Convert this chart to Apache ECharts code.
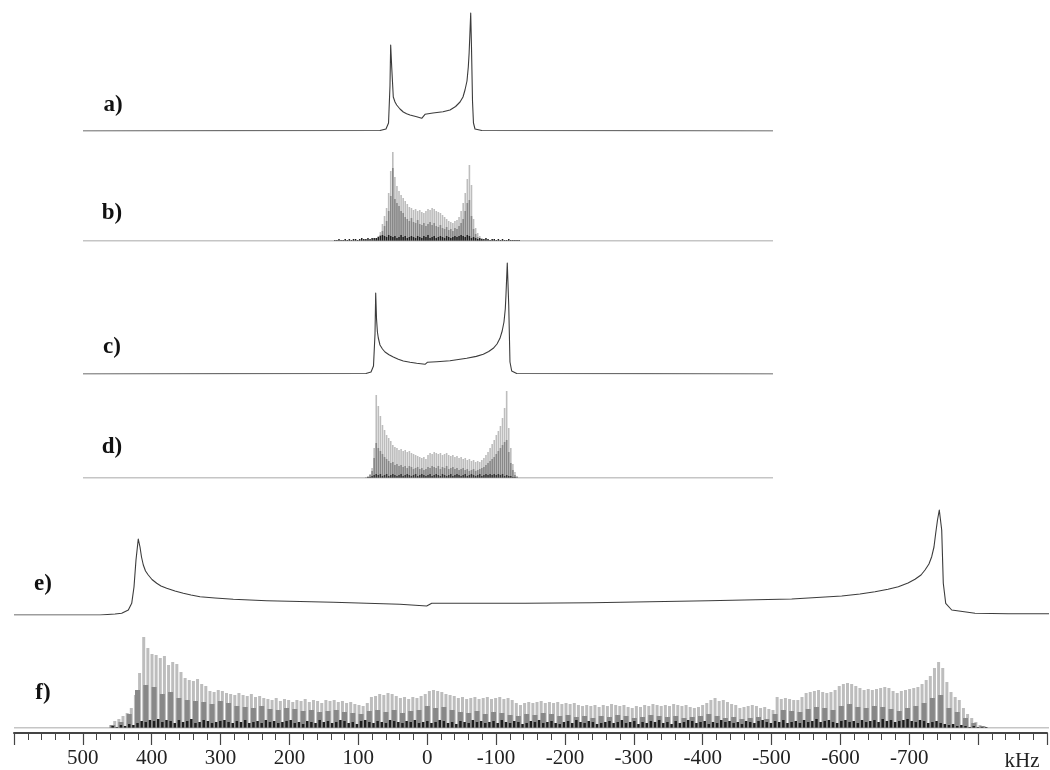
<!DOCTYPE html>
<html><head><meta charset="utf-8">
<script src="https://cdn.jsdelivr.net/npm/echarts@6/dist/echarts.min.js"></script>
<style>html,body{margin:0;padding:0;background:#fff}#c{width:1050px;height:770px}</style>
</head><body><div id="c"></div>
<script>
// ---------- DATA (x in kHz, y in relative intensity) ----------
const panelLabels = ['a)', 'b)', 'c)', 'd)', 'e)', 'f)'];
const tickLabelsShown = [500, 400, 300, 200, 100, 0, -100, -200, -300, -400, -500, -600, -700];
const axisUnit = 'kHz';

const traceA = [[500,0],[69.6,0.5],[60.9,2],[57.2,8],[55.1,45],[54.1,86],[52.6,64],[50.3,34],[47.8,29],[45.4,26],[40.6,22],[35.8,19],[31,17.3],[26.1,16],[16.4,14.3],[9.1,12.7],[6.5,12.8],[4.3,16.7],[-7.2,18],[-21.7,19.3],[-31.9,21],[-40,24.5],[-46.4,29],[-50.7,34],[-53.6,41],[-56.5,50],[-58.4,64],[-59.6,78],[-60.6,95],[-61.9,118],[-63,85],[-64.5,30],[-65.9,8],[-68.1,2],[-78,0.5],[-500,0]];

const traceC = [[500,0],[89.9,0.5],[82.6,2],[79,8],[76.8,40],[75.8,81],[74.6,55],[73.3,42],[72,36],[69.6,29],[66,25],[62.3,22],[56.5,19.3],[50.3,17],[43,14.8],[35.8,13],[26,11.7],[16.4,10.7],[4.3,9.7],[1,11.7],[-12.6,12.3],[-31.9,13.3],[-56.1,15.7],[-70,17.6],[-80.1,19.7],[-88,22.5],[-94.6,25.7],[-100,30],[-104.3,35.7],[-107.5,43],[-110.1,52],[-112,65],[-113,79],[-114.9,111],[-117,69],[-118.8,12],[-121.3,3],[-128.6,0.5],[-500,0]];

const traceE = [[600,0],[475.4,0],[453.6,1],[443.9,1.7],[434.3,5],[429.4,11.7],[426.1,28],[423.2,55],[419.9,76],[418.8,74],[417.4,68],[415.2,58],[412.6,50],[409.4,44],[405.4,40],[400,35.5],[393.2,31.7],[387,29],[378.7,26.7],[366.7,24],[354.6,21.7],[343.5,20],[330.4,18.3],[308.7,17],[282.2,15.7],[233.8,14.3],[137.2,12.7],[40.6,10.7],[1.9,9],[-5.4,11.7],[-31.9,11.7],[-140.6,11.7],[-237.2,12.3],[-406.2,14.3],[-527.1,16],[-599.6,19],[-626,21],[-647.8,23.3],[-666.7,25.8],[-681.6,28.3],[-695.7,32],[-705.8,35.7],[-714.5,40],[-720.3,45],[-726,51],[-730,58.3],[-733.3,68],[-735.8,81.7],[-738.4,95],[-741,105],[-744.5,85],[-746.8,31.7],[-750.3,11.7],[-759,5],[-792.8,1.7],[-841,1.3],[-900,1.3]];

// stick spectrum b: positions start 75 kHz, step 3 kHz
const bStart = 75, bStep = 3;
const bLight = [3,5,9,17,25,33,48,70,89,64,55,50,46,43,40,37,34,33,31,32,30,31,29,28,30,32,31,33,32,30,29,28,26,24,22,20,19,18,20,21,24,30,38,48,62,76,56,22,13,8,5,3];
const bDark  = [1,3,6,10,15,20,30,45,73,42,38,35,30,28,24,22,20,23,19,18,21,17,16,18,15,17,19,16,18,15,14,16,13,12,14,11,12,10,13,12,15,18,22,30,38,41,25,12,7,4,2,1];
const bBlackStart = 135;
const bBlack = [1,1,2,1,1,2,1,2,1,2,2,1,2,3,2,2,3,2,3,3,
  3,4,5,6,5,4,6,5,4,5,3,4,6,4,5,3,4,5,4,3,
  5,4,3,5,4,6,3,4,5,3,4,5,4,3,5,4,3,4,5,4,
  5,6,5,4,6,5,3,4,3,2,3,2,2,3,2,1,2,2,1,2,
  1,2,1,1,2,1,1,1,1,1];

// stick spectrum d: positions start 90 kHz, step 3 kHz
const dStart = 90, dStep = 3;
const dLight = [1,2,4,10,30,83,72,62,53,48,43,40,37,33,31,30,28,29,27,28,
  26,27,25,24,23,22,21,20,21,19,23,25,24,26,25,24,25,23,24,25,
  23,22,23,21,22,20,21,19,20,18,19,17,18,16,17,16,18,20,23,26,
  30,34,38,43,47,52,60,70,87,50,30,14,6,2];
const dDark = [0,1,3,7,20,35,30,27,24,21,19,17,15,16,13,14,12,13,11,12,
  10,12,11,9,10,11,9,10,8,9,11,10,12,11,10,12,9,11,10,12,
  9,10,11,9,10,8,9,10,8,9,7,8,9,7,8,9,10,11,13,15,
  17,19,21,24,27,30,33,36,38,26,15,8,3,1];
const dBlack = [0,1,1,2,3,4,3,4,2,3,4,2,3,4,3,2,3,4,2,3,
  4,3,2,3,4,2,3,4,3,2,3,4,2,3,4,3,2,4,3,2,
  3,4,2,3,4,3,2,3,4,2,3,4,3,2,3,4,2,3,4,3,
  4,3,4,3,4,3,4,2,3,2,2,1,1,0];

// stick spectrum f: light start 460 kHz step 6; dark start 457 step 12; black start 457 step 6
const fLightStart = 460, fLightStep = 6;
const fLight = [3,7,9,12,15,20,33,55,91,80,74,73,70,72,63,66,64,56,50,48,
  47,49,44,42,37,36,38,37,35,34,33,35,33,32,34,31,32,30,29,28,
  30,27,29,28,26,28,27,29,26,28,27,25,28,27,28,26,27,25,26,24,
  23,22,25,31,32,34,33,35,34,32,30,31,29,31,30,32,34,37,38,37,
  36,34,33,32,30,31,29,30,31,29,30,31,29,30,31,29,30,28,25,23,
  25,26,25,26,27,25,26,25,26,24,25,24,25,23,22,23,22,23,21,23,
  22,24,23,22,23,21,20,22,21,23,22,24,23,22,23,22,24,23,22,23,
  21,20,21,23,25,28,30,27,28,26,24,23,20,21,22,23,22,20,21,19,
  18,31,29,30,29,28,28,31,35,36,37,38,36,35,36,38,42,44,45,44,
  42,40,38,39,38,39,40,41,40,37,35,37,38,39,40,41,44,48,52,60,
  66,60,46,36,31,28,20,14,10,6,3,2];
const fDarkStart = 457, fDarkStep = 12;
const fDark = [3,6,14,38,43,41,34,36,30,28,27,26,24,27,25,22,21,20,22,19,
  18,20,19,17,18,16,17,18,16,15,14,17,18,16,18,15,17,18,22,20,
  21,18,16,15,17,14,16,15,13,12,14,13,15,14,12,13,11,12,10,12,
  11,13,12,10,11,13,12,11,12,10,11,12,14,12,10,11,9,10,11,9,
  14,18,17,16,19,21,20,18,22,24,21,20,22,21,19,17,20,22,25,30,
  33,20,16,10,5,2];
const fBlackStart = 457, fBlackStep = 6;
const fBlack = [2,1,3,2,4,3,5,7,6,8,7,9,6,8,7,5,8,6,7,9,
  5,6,8,7,5,6,7,8,6,5,7,6,8,5,6,7,5,8,6,7,
  5,6,7,8,5,6,4,7,6,5,8,6,7,5,6,8,7,5,6,4,
  7,8,6,5,7,6,5,8,7,6,5,7,6,8,5,6,7,5,6,8,
  7,5,6,4,7,6,5,8,6,7,5,6,7,5,8,6,5,7,6,4,
  5,7,6,8,5,6,7,5,4,6,7,5,8,6,5,7,6,4,5,6,
  7,5,6,8,5,6,7,4,6,5,7,6,8,5,6,4,7,5,6,8,
  7,5,6,7,4,6,5,8,6,7,5,6,4,7,6,5,7,8,6,5,
  7,6,8,5,6,7,5,8,6,7,9,6,7,8,6,5,7,8,6,7,
  5,8,6,7,8,6,9,7,8,6,7,8,9,7,6,8,7,5,6,7,
  5,4,3,4,2,3,2,1,2,1,1,1];

// ---------- CHART ----------
function sticks(start, step, h) { return h.map((v, i) => [start - i * step, v]); }

const SMALL = {left: 83, width: 690, min: -500, max: 500};
const WIDE  = {left: 14, width: 1035, min: -900, max: 600};

const grids = [], xAxes = [], yAxes = [], series = [];
function addGrid(span, baseline, h) {
  const i = grids.length;
  grids.push({left: span.left, width: span.width, top: baseline - h, height: h});
  xAxes.push({gridIndex: i, type: 'value', min: span.min, max: span.max, inverse: true, show: false});
  yAxes.push({gridIndex: i, type: 'value', min: 0, max: h, show: false});
  return i;
}
function addLine(g, data, color, width) {
  series.push({type: 'line', xAxisIndex: g, yAxisIndex: g, data: data, showSymbol: false, silent: true,
    lineStyle: {color: color, width: width, join: 'round'}, animation: false});
}
function addBars(g, data, color, bw) {
  series.push({type: 'bar', xAxisIndex: g, yAxisIndex: g, data: data, barWidth: bw, silent: true,
    itemStyle: {color: color}, animation: false});
}
const LIGHT = '#bdbdbd', DARK = '#888888', BLACK = '#1e1e1e', TRACE = '#3c3c3c';

// a
let g = addGrid(SMALL, 131, 125); addLine(g, traceA, TRACE, 1.1);
// b
g = addGrid(SMALL, 241, 100); addLine(g, [[500,0],[-500,0]], '#8a8a8a', 1); addBars(g, sticks(bStart, bStep, bLight), LIGHT, 1.6);
g = addGrid(SMALL, 241, 100); addBars(g, sticks(bStart, bStep, bDark), DARK, 1.6);
g = addGrid(SMALL, 241, 100); addBars(g, sticks(bBlackStart, bStep, bBlack), BLACK, 1.5);
// c
g = addGrid(SMALL, 374, 115); addLine(g, traceC, TRACE, 1.1);
// d
g = addGrid(SMALL, 478, 95); addLine(g, [[500,0],[-500,0]], '#8a8a8a', 1); addBars(g, sticks(dStart, dStep, dLight), LIGHT, 1.6);
g = addGrid(SMALL, 478, 95); addBars(g, sticks(dStart, dStep, dDark), DARK, 1.6);
g = addGrid(SMALL, 478, 95); addBars(g, sticks(dStart, dStep, dBlack), '#333', 1.5);
// e
g = addGrid(WIDE, 615, 110); addLine(g, traceE, TRACE, 1.1);
// f
g = addGrid(WIDE, 728, 100); addLine(g, [[600,0],[-900,0]], '#8a8a8a', 1); addBars(g, sticks(fLightStart, fLightStep, fLight), LIGHT, 3);
g = addGrid(WIDE, 728, 100); addBars(g, sticks(fDarkStart, fDarkStep, fDark), DARK, 5);
g = addGrid(WIDE, 728, 100); addBars(g, sticks(fBlackStart, fBlackStep, fBlack), BLACK, 2.5);

// bottom axis grid
const ax = grids.length;
grids.push({left: WIDE.left, width: WIDE.width, top: 732, height: 1});
xAxes.push({gridIndex: ax, type: 'value', min: WIDE.min, max: WIDE.max, interval: 100, inverse: true,
  position: 'bottom',
  axisLine: {show: true, lineStyle: {color: '#444', width: 2}},
  axisTick: {show: true, length: 12, lineStyle: {color: '#444', width: 1.2}},
  minorTick: {show: true, splitNumber: 5, length: 7, lineStyle: {color: '#444', width: 1}},
  splitLine: {show: false}, minorSplitLine: {show: false},
  axisLabel: {margin: 15, color: '#222', fontSize: 21, fontFamily: 'Liberation Serif',
    formatter: v => tickLabelsShown.indexOf(v) >= 0 ? String(v) : ''}});
yAxes.push({gridIndex: ax, type: 'value', show: false});
series.push({type: 'line', xAxisIndex: ax, yAxisIndex: ax, data: [], silent: true});

const labelPos = [[113,105],[112,213],[112,347],[112,447],[43,584],[43,693]];
const graphics = panelLabels.map((t, i) => ({type: 'text', x: labelPos[i][0], y: labelPos[i][1], silent: true,
  style: {text: t, font: 'bold 23px "Liberation Serif"', fill: '#111', textAlign: 'center', textVerticalAlign: 'middle', verticalAlign: 'middle'}}));
graphics.push({type: 'text', x: 1022, y: 761, silent: true,
  style: {text: axisUnit, font: '21px "Liberation Serif"', fill: '#222', textAlign: 'center', textVerticalAlign: 'middle', verticalAlign: 'middle'}});

const chart = echarts.init(document.getElementById('c'), null, {renderer: 'canvas'});
chart.setOption({animation: false, backgroundColor: '#fff', grid: grids, xAxis: xAxes, yAxis: yAxes, series: series, graphic: graphics});
</script>
</body></html>
